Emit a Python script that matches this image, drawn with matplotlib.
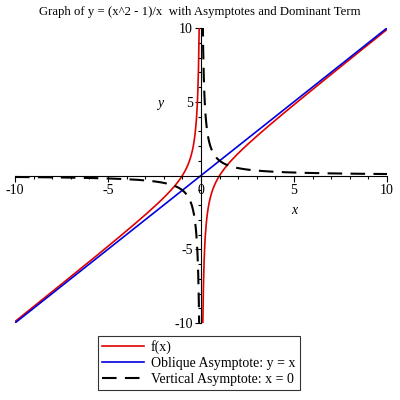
import numpy as np
import matplotlib.pyplot as plt
from matplotlib.ticker import MultipleLocator

plt.rcParams['font.family'] = ['Liberation Serif', 'DejaVu Serif']

# plot range and sample points (function graph from the title)
x_min, x_max = -10, 10
y_min, y_max = -10, 10
x_left = np.linspace(-10, -0.05, 600)
x_right = np.linspace(0.05, 10, 600)

fig = plt.figure(figsize=(4, 4), dpi=100)
ax = fig.add_axes([0.0375, 0.1925, 0.93, 0.7375])

# f(x) = (x^2 - 1)/x
for xs in (x_left, x_right):
    ax.plot(xs, (xs**2 - 1) / xs, color='#e00000', lw=1.2,
            label='f(x)' if xs[0] < 0 else None)

# oblique asymptote y = x
ax.plot([x_min, x_max], [x_min, x_max], color='#0000e0', lw=1.2,
        label='Oblique Asymptote: y = x')

# dominant term 1/x
for xs in (x_left, x_right):
    ax.plot(xs, 1 / xs, color='black', lw=1.5, dashes=(7, 4),
            label='Vertical Asymptote: x = 0' if xs[0] < 0 else None)

ax.set_xlim(x_min, x_max)
ax.set_ylim(y_min, y_max)

# axes through the origin
ax.spines['left'].set_position('zero')
ax.spines['bottom'].set_position('zero')
ax.spines['right'].set_visible(False)
ax.spines['top'].set_visible(False)
ax.xaxis.set_major_locator(MultipleLocator(5))
ax.xaxis.set_minor_locator(MultipleLocator(1))
ax.yaxis.set_major_locator(MultipleLocator(5))
ax.yaxis.set_minor_locator(MultipleLocator(1))
ax.tick_params(which='major', length=4, width=0.8, labelsize=10, pad=2)
ax.tick_params(which='minor', length=2.5, width=0.8)
ax.set_xticks([-10, -5, 0, 5, 10])
ax.set_xticklabels(['-10', '-5', '0', '5', '10'])
ax.set_yticks([-10, -5, 5, 10])
ax.set_yticklabels(['-10', '-5', '5', '10'])

ax.text(5.0, -2.4, 'x', style='italic', fontsize=10, ha='center', va='center')
ax.text(-2.2, 4.9, 'y', style='italic', fontsize=10, ha='center', va='center')

fig.suptitle('Graph of y = (x^2 - 1)/x  with Asymptotes and Dominant Term',
             fontsize=9.2, y=0.985)

leg = fig.legend(loc='upper center', bbox_to_anchor=(0.4975, 0.177),
                 fontsize=10, frameon=True, fancybox=False, edgecolor='black',
                 handlelength=3, handletextpad=0.5, borderpad=0.3,
                 labelspacing=0.2)
leg.get_frame().set_linewidth(0.8)

plt.savefig('out.png', dpi=100)
